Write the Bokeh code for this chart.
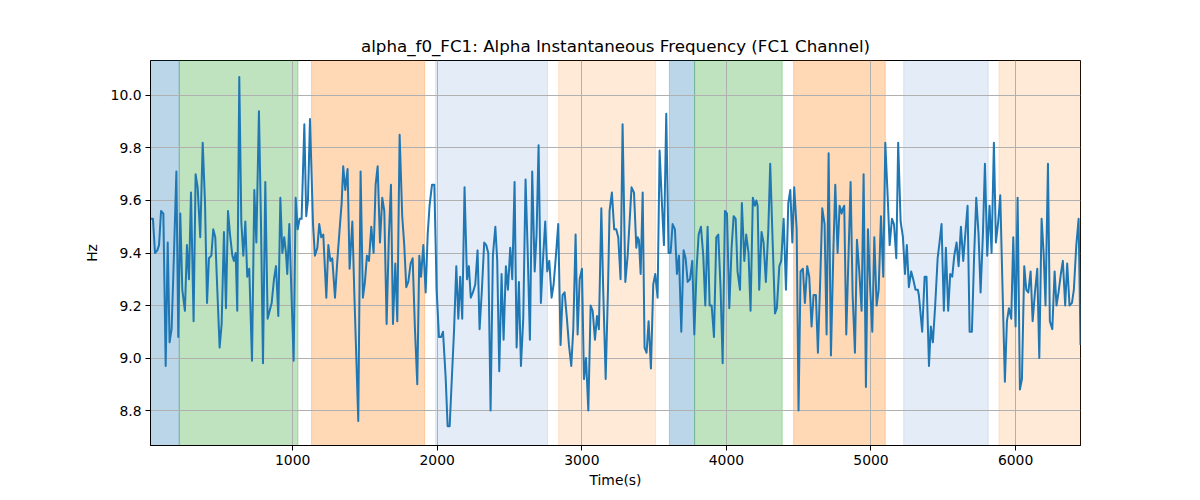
from bokeh.plotting import figure
from bokeh.models import Range1d, FixedTicker, PrintfTickFormatter
from bokeh.embed import file_html
from bokeh.resources import INLINE

times = [17, 34, 48, 64, 76, 90, 106, 122, 136, 149, 163, 179, 196, 209, 223, 237, 255, 269, 283, 297,
         315, 329, 343, 361, 378, 394, 408, 421, 438, 451, 465, 479, 495, 509, 525, 539, 553, 567, 583, 594,
         606, 617, 631, 645, 659, 673, 686, 700, 719, 735, 749, 767, 781, 795, 811, 827, 841, 855, 871, 885,
         901, 915, 929, 942, 954, 963, 977, 991, 1007, 1021, 1035, 1048, 1062, 1081, 1094, 1106, 1120,
         1141, 1154, 1171, 1184, 1198, 1212, 1233, 1247, 1261, 1274, 1293, 1309, 1325, 1339, 1350, 1364, 1380, 1394, 1413, 1427,
         1440, 1454, 1470, 1486, 1500, 1514, 1528, 1544, 1560, 1574, 1588, 1604, 1620, 1634, 1650, 1666, 1680, 1694, 1710, 1724,
         1740, 1758, 1772, 1786, 1800, 1816, 1830, 1846, 1862, 1876, 1888, 1904, 1920, 1934, 1947, 1964, 1980, 1996, 2012, 2026,
         2040, 2058, 2072, 2086, 2100, 2116, 2132, 2146, 2159, 2173, 2189, 2206, 2219, 2232,
         2247, 2263, 2279, 2293, 2309, 2325, 2339, 2353, 2369, 2385, 2402, 2415, 2429, 2445, 2459, 2475, 2489, 2505, 2519, 2535,
         2549, 2565, 2579, 2595, 2611, 2625, 2641, 2657, 2674, 2687, 2701, 2717, 2731, 2747, 2761, 2775, 2791, 2805, 2821, 2837,
         2853, 2867, 2881, 2897, 2911, 2927, 2941, 2957, 2971, 2985, 3001, 3015, 3029, 3045, 3061, 3075, 3091, 3105, 3118, 3135,
         3148, 3165, 3181, 3192, 3208, 3224, 3238, 3252, 3268, 3282, 3301, 3317,
         3344, 3361, 3377, 3386, 3395, 3407, 3421, 3434, 3448, 3462, 3478, 3494, 3508, 3524, 3538, 3554, 3568, 3584, 3600, 3614,
         3628, 3644, 3658, 3672, 3688, 3704, 3718, 3732, 3748, 3764, 3778, 3794, 3808, 3824, 3840, 3854, 3870, 3884, 3898, 3914,
         3930, 3944, 3960, 3974, 3990, 4004, 4020, 4036, 4050, 4064, 4077, 4094, 4107, 4124, 4137, 4153, 4167, 4183, 4197, 4207,
         4216, 4227, 4243, 4257, 4273, 4290, 4303, 4320, 4336, 4349, 4366, 4379, 4396, 4412, 4428, 4442,
         4456, 4469, 4486, 4499, 4513, 4529, 4543, 4559, 4573, 4589, 4603, 4619, 4633, 4649, 4663, 4679, 4693, 4707, 4723, 4739,
         4753, 4769, 4783, 4797, 4806, 4815, 4829, 4843, 4859, 4873, 4889, 4903, 4919, 4935, 4949, 4965, 4979, 4995, 5009, 5023,
         5039, 5053, 5069, 5085, 5099, 5115, 5129, 5145, 5159, 5175, 5188, 5205, 5221, 5235, 5248, 5262, 5278, 5292, 5308, 5324,
         5331, 5341, 5354, 5371, 5384, 5401, 5414, 5428, 5444, 5461, 5474, 5488, 5504, 5518, 5534, 5548,
         5562, 5576, 5592, 5606, 5622, 5638, 5652, 5668, 5682, 5698, 5714, 5728, 5744, 5758, 5774, 5788, 5804, 5820, 5834, 5850,
         5864, 5880, 5894, 5910, 5926, 5940, 5954, 5970, 5984, 6000, 6014, 6030, 6044, 6060, 6074, 6088, 6104, 6118, 6134, 6150,
         6164, 6180, 6194, 6207, 6224, 6237, 6254, 6270, 6283, 6297, 6313, 6327, 6343, 6357, 6373, 6390, 6403, 6420, 6436, 6449]

values = [9.53, 9.53, 9.40, 9.41, 9.43, 9.56, 9.55, 8.97, 9.44, 9.06, 9.11, 9.39, 9.71, 9.08, 9.55, 9.26, 9.18, 9.43, 9.30, 9.63,
          9.14, 9.70, 9.65, 9.46, 9.82, 9.59, 9.21, 9.38, 9.39, 9.49, 9.46, 9.26, 9.04, 9.13, 9.48, 9.19, 9.56, 9.47, 9.39, 9.37,
          9.40, 9.18, 10.07, 9.52, 9.39, 9.52, 9.31, 9.34, 8.99, 9.64, 9.44, 9.94, 9.52, 8.98, 9.67, 9.15, 9.18, 9.21, 9.30, 9.35,
          9.16, 9.61, 9.40, 9.46, 9.40, 9.32, 9.51, 9.26, 8.99, 9.61, 9.49, 9.53, 9.53, 9.89, 9.54, 9.60, 9.91,
          9.51, 9.39, 9.42, 9.51, 9.46, 9.47, 9.23, 9.43, 9.37, 9.38, 9.23, 9.37, 9.49, 9.59, 9.73, 9.64, 9.72, 9.34, 9.52, 9.24,
          9.01, 8.76, 9.71, 9.23, 9.29, 9.39, 9.37, 9.50, 9.40, 9.66, 9.73, 9.44, 9.61, 9.56, 9.13, 9.47, 9.66, 9.13, 9.36, 9.14,
          9.85, 9.54, 9.43, 9.27, 9.29, 9.36, 9.38, 9.11, 8.90, 9.39, 9.31, 9.43, 9.25, 9.47, 9.58, 9.66, 9.66, 9.26, 9.08, 9.08,
          9.10, 8.93, 8.74, 8.74, 8.91, 9.10, 9.35, 9.15, 9.31, 9.15, 9.65, 9.30, 9.35, 9.23,
          9.25, 9.28, 9.41, 9.11, 9.26, 9.44, 9.43, 9.40, 8.80, 9.39, 9.50, 9.37, 8.95, 9.32, 9.07, 9.35, 9.26, 9.42, 9.30, 9.67,
          9.04, 9.29, 8.97, 9.15, 9.68, 9.42, 9.07, 9.71, 9.33, 9.47, 9.81, 9.21, 9.37, 9.52, 9.33, 9.37, 9.23, 9.28, 9.39, 9.51,
          9.05, 9.24, 9.25, 9.15, 9.05, 8.97, 9.11, 9.47, 9.09, 9.30, 9.34, 8.92, 9.00, 8.80, 9.20, 9.18, 9.07, 9.16, 9.11, 9.57,
          9.26, 8.92, 9.26, 9.56, 9.63, 9.49, 9.49, 9.46, 9.30, 9.89, 9.29, 9.39,
          9.65, 9.63, 9.42, 9.46, 9.45, 9.32, 9.63, 9.04, 9.02, 9.14, 8.96, 9.28, 9.32, 9.23, 9.79, 9.59, 9.43, 9.93, 9.40, 9.40,
          9.51, 9.49, 9.32, 9.39, 9.10, 9.41, 9.38, 9.29, 9.30, 9.37, 9.09, 9.34, 9.47, 9.50, 9.39, 9.20, 9.50, 9.20, 9.20, 9.08,
          9.46, 9.47, 9.26, 8.98, 9.56, 9.55, 9.19, 9.42, 9.54, 9.53, 9.33, 9.26, 9.59, 9.37, 9.47, 9.40, 9.18, 9.61, 9.58, 9.60,
          9.58, 9.26, 9.48, 9.44, 9.29, 9.49, 9.74, 9.44, 9.17, 9.19, 9.35, 9.37, 9.53, 9.26, 9.59, 9.64,
          9.44, 9.65, 9.49, 8.80, 9.33, 9.34, 9.21, 9.35, 9.31, 9.12, 9.24, 9.24, 9.02, 9.30, 9.57, 9.51, 9.09, 9.78, 9.01, 9.39,
          9.66, 9.40, 9.58, 9.55, 9.57, 9.58, 9.09, 9.36, 9.67, 9.24, 9.02, 9.45, 9.33, 9.18, 9.70, 8.89, 9.49, 9.26, 9.10, 9.46,
          9.20, 9.26, 9.54, 9.31, 9.82, 9.62, 9.43, 9.53, 9.51, 9.38, 9.82, 9.52, 9.46, 9.32, 9.43, 9.27, 9.33, 9.30, 9.26, 9.26,
          9.24, 9.18, 9.10, 9.31, 9.31, 8.97, 9.12, 9.06, 9.20, 9.38, 9.44, 9.51, 9.18, 9.42, 9.18, 9.32,
          9.31, 9.39, 9.44, 9.35, 9.50, 9.37, 9.47, 9.58, 9.10, 9.10, 9.40, 9.61, 9.47, 9.25, 9.47, 9.74, 9.39, 9.58, 9.40, 9.82,
          9.44, 9.52, 9.62, 9.26, 8.91, 9.14, 9.19, 9.15, 9.46, 9.12, 9.61, 8.88, 8.92, 9.35, 9.26, 9.25, 9.33, 9.14, 9.25, 9.34,
          9.00, 9.53, 9.40, 9.20, 9.74, 9.14, 9.11, 9.33, 9.20, 9.25, 9.32, 9.37, 9.20, 9.36, 9.20, 9.21, 9.26, 9.43, 9.53, 9.05]

span_start = [17, 216, 1131, 1989, 2840, 3606, 3780, 4465, 5226, 5885]
span_end = [216, 1037, 1913, 2763, 3510, 3780, 4386, 5099, 5811, 6449]
span_color = ["#1f77b4", "#2ca02c", "#ff7f0e", "#4a7fd0", "#ff7f0e",
              "#1f77b4", "#2ca02c", "#ff7f0e", "#4a7fd0", "#ff7f0e"]
span_alpha = [0.3, 0.3, 0.3, 0.15, 0.16, 0.3, 0.3, 0.3, 0.15, 0.16]

x_ticks = [1000, 2000, 3000, 4000, 5000, 6000]
y_ticks = [8.8, 9.0, 9.2, 9.4, 9.6, 9.8, 10.0]

FONT = "DejaVu Sans"

p = figure(width=1200, height=500, output_backend="svg", toolbar_location=None,
           x_range=Range1d(times[0], times[-1]), y_range=Range1d(8.667, 10.133),
           min_border_left=150, min_border_right=120, min_border_top=60, min_border_bottom=55,
           title="alpha_f0_FC1: Alpha Instantaneous Frequency (FC1 Channel)")

p.quad(left=span_start, right=span_end, bottom=8.0, top=11.0,
       fill_color=span_color, fill_alpha=span_alpha,
       line_color=span_color, line_alpha=span_alpha, line_width=1, level="image")

p.line(times, values, line_color="#1f77b4", line_width=2, line_join="round")

p.title.align = "center"
p.title.text_font = FONT
p.title.text_font_size = "16.7px"
p.title.text_font_style = "normal"
p.title.text_color = "black"

p.xaxis.ticker = FixedTicker(ticks=x_ticks)
p.yaxis.ticker = FixedTicker(ticks=y_ticks)
p.yaxis.formatter = PrintfTickFormatter(format="%.1f")
p.xaxis.axis_label = "Time(s)"
p.yaxis.axis_label = "Hz"
for ax in (p.xaxis, p.yaxis):
    ax.axis_label_text_font = FONT
    ax.axis_label_text_font_size = "13.9px"
    ax.axis_label_text_font_style = "normal"
    ax.axis_label_text_color = "black"
    ax.major_label_text_font = FONT
    ax.major_label_text_font_size = "13.9px"
    ax.major_label_text_color = "black"
    ax.major_tick_out = 5
    ax.major_tick_in = 0
    ax.minor_tick_out = 0
    ax.minor_tick_in = 0
    ax.major_tick_line_color = "black"
    ax.axis_line_color = "black"
    ax.major_label_standoff = 4
p.xaxis.axis_label_standoff = 4
p.yaxis.axis_label_standoff = 8

p.grid.grid_line_color = "#b0b0b0"
p.grid.grid_line_width = 1
p.outline_line_color = "black"
p.outline_line_width = 1
p.background_fill_color = "white"
p.border_fill_color = "white"

open("out.html", "w").write(file_html(p, INLINE))
